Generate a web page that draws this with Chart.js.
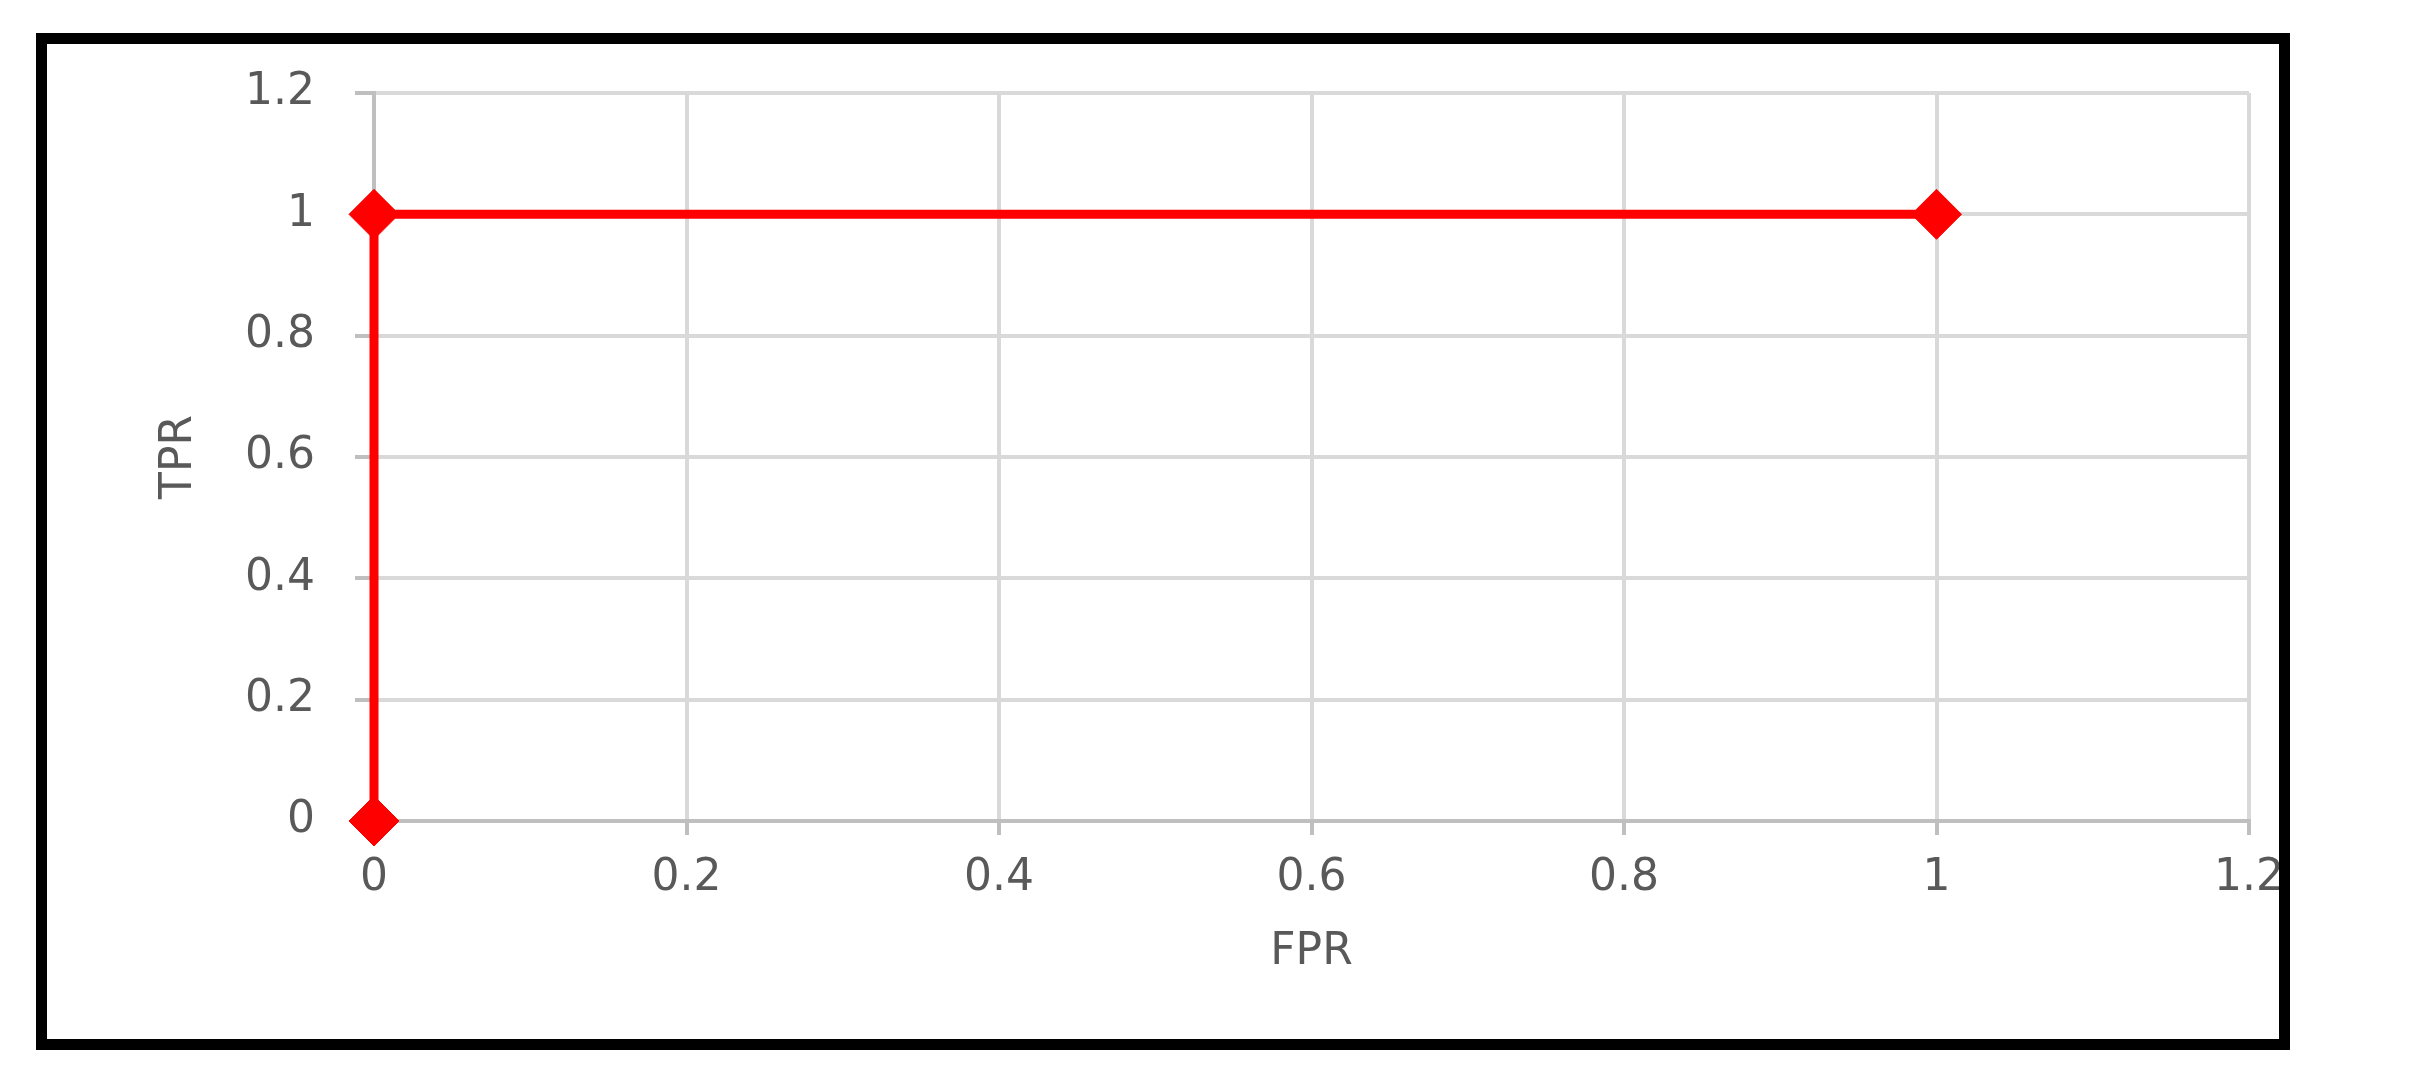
<!DOCTYPE html>
<html>
<head>
<meta charset="utf-8">
<script src="https://cdn.jsdelivr.net/npm/chart.js@4.4.0/dist/chart.umd.min.js"></script>
<style>
    body { margin: 0; background: #ffffff; }
    #wrap { position: relative; width: 2411px; height: 1081px; }
    #frame {
        position: absolute; left: 36px; top: 33px;
        width: 2254px; height: 1017px;
        border: 11px solid #000000; box-sizing: border-box;
        pointer-events: none;
    }
</style>
</head>
<body>
<div id="wrap">
    <canvas id="rocChart" width="2411" height="1081"></canvas>
    <div id="frame"></div>
</div>
<script>
// ROC points
const fprValues = [0, 0, 1];
const tprValues = [0, 1, 1];

const tickValues = [0, 0.2, 0.4, 0.6, 0.8, 1, 1.2];
const tickLabels = ['0', '0.2', '0.4', '0.6', '0.8', '1', '1.2'];

const xTitle = 'FPR';
const yTitle = 'TPR';

const corTexto = '#595959';
const corGrade = '#d9d9d9';
const corEixo = '#bfbfbf';

function fixarTicks(scale) {
    scale.ticks = tickValues.map(v => ({ value: v }));
}

function rotulo(value) {
    const i = tickValues.findIndex(v => Math.abs(v - value) < 1e-9);
    return i >= 0 ? tickLabels[i] : '';
}

const ctx = document.getElementById('rocChart').getContext('2d');
new Chart(ctx, {
    type: 'scatter',
    data: {
        datasets: [{
            label: 'ROC',
            data: fprValues.map((x, i) => ({ x: x, y: tprValues[i] })),
            showLine: true,
            clip: false,
            borderColor: '#ff0000',
            backgroundColor: '#ff0000',
            borderWidth: 9,
            pointStyle: 'rectRot',
            pointRadius: 25,
            pointBorderWidth: 1,
            pointBorderColor: '#ff0000',
            pointBackgroundColor: '#ff0000'
        }]
    },
    options: {
        responsive: false,
        animation: false,
        layout: {
            padding: { left: 153, right: 162, top: 93, bottom: 40 }
        },
        plugins: {
            legend: { display: false },
            tooltip: { enabled: false }
        },
        scales: {
            x: {
                type: 'linear',
                min: 0,
                max: 1.2,
                afterBuildTicks: fixarTicks,
                afterFit: (scale) => { scale.height = 220; },
                grid: {
                    color: corGrade,
                    lineWidth: 4,
                    tickColor: corEixo,
                    tickLength: 14
                },
                border: { color: corEixo, width: 4 },
                ticks: {
                    callback: rotulo,
                    color: corTexto,
                    padding: 17,
                    maxRotation: 0,
                    font: { family: 'DejaVu Sans', size: 44 }
                },
                title: {
                    display: true,
                    text: xTitle,
                    color: corTexto,
                    padding: { top: 0, bottom: 62 },
                    font: { family: 'DejaVu Sans', size: 44 }
                }
            },
            y: {
                type: 'linear',
                min: 0,
                max: 1.2,
                afterBuildTicks: fixarTicks,
                afterFit: (scale) => { scale.width = 221; },
                grid: {
                    color: corGrade,
                    lineWidth: 4,
                    tickColor: corEixo,
                    tickLength: 19
                },
                border: { color: corEixo, width: 4 },
                ticks: {
                    callback: rotulo,
                    color: corTexto,
                    padding: 40,
                    font: { family: 'DejaVu Sans', size: 44 }
                },
                title: {
                    display: true,
                    text: yTitle,
                    color: corTexto,
                    padding: { top: 0, bottom: 0 },
                    font: { family: 'DejaVu Sans', size: 44 }
                }
            }
        }
    }
});
</script>
</body>
</html>
